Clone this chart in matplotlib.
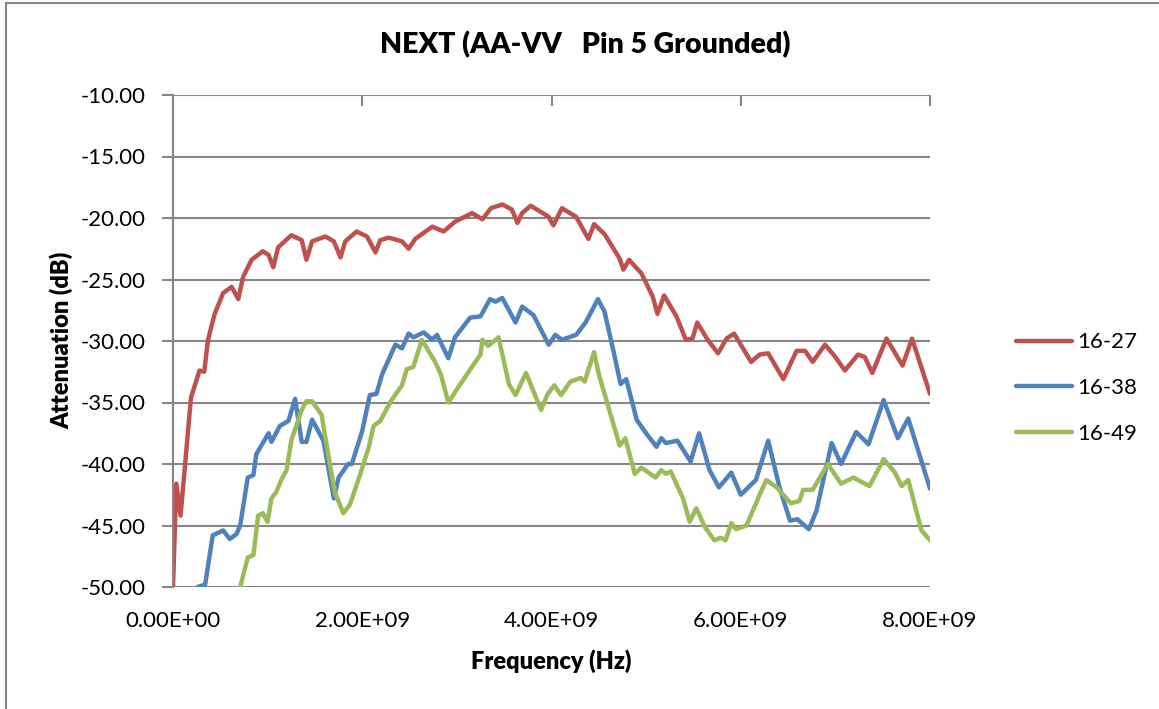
import matplotlib
matplotlib.use("Agg")
import matplotlib.pyplot as plt
from matplotlib.patches import Rectangle
import numpy as np

plt.rcParams['font.family'] = ['Lato', 'DejaVu Sans']

# ---- data (frequency in GHz, attenuation in dB) ----
f_16_27 = [0.00, 0.035, 0.08, 0.19, 0.28, 0.33, 0.37, 0.44, 0.53, 0.62, 0.69, 0.74, 0.83, 0.95,
           1.01, 1.06, 1.11, 1.25, 1.36, 1.41, 1.47, 1.61, 1.70, 1.77, 1.82, 1.94, 2.05, 2.14,
           2.19, 2.28, 2.42, 2.49, 2.56, 2.74, 2.86, 2.98, 3.16, 3.27, 3.36, 3.48, 3.58, 3.64,
           3.69, 3.78, 3.97, 4.02, 4.11, 4.26, 4.39, 4.45, 4.56, 4.72, 4.76, 4.82, 4.95, 5.07,
           5.12, 5.19, 5.32, 5.42, 5.49, 5.54, 5.65, 5.76, 5.85, 5.93, 6.11, 6.20, 6.29, 6.45,
           6.59, 6.68, 6.76, 6.89, 6.99, 7.10, 7.24, 7.31, 7.39, 7.54, 7.71, 7.81, 8.00]
a_16_27 = [-50.0, -41.6, -44.2, -34.6, -32.4, -32.5, -29.9, -27.8, -26.1, -25.6, -26.6, -24.8, -23.4, -22.7,
           -23.0, -24.0, -22.4, -21.4, -21.8, -23.4, -21.9, -21.5, -21.9, -23.2, -21.9, -21.1, -21.5, -22.8,
           -21.8, -21.6, -21.9, -22.5, -21.7, -20.7, -21.1, -20.3, -19.6, -20.1, -19.2, -18.9, -19.3, -20.4,
           -19.6, -19.0, -19.9, -20.6, -19.2, -19.9, -21.7, -20.5, -21.3, -23.3, -24.2, -23.4, -24.5, -26.4,
           -27.8, -26.3, -28.0, -29.9, -29.8, -28.5, -29.9, -31.0, -29.8, -29.4, -31.7, -31.1, -31.0, -33.1,
           -30.8, -30.8, -31.7, -30.3, -31.2, -32.4, -31.1, -31.3, -32.6, -29.8, -32.0, -29.8, -34.3]

f_16_38 = [0.26, 0.34, 0.42, 0.53, 0.60, 0.67, 0.71, 0.79, 0.85, 0.88, 1.01, 1.04, 1.13, 1.22,
           1.29, 1.36, 1.41, 1.47, 1.59, 1.70, 1.75, 1.85, 1.89, 2.00, 2.08, 2.15, 2.21, 2.35,
           2.42, 2.49, 2.54, 2.65, 2.74, 2.79, 2.91, 2.98, 3.14, 3.25, 3.35, 3.41, 3.48, 3.62,
           3.69, 3.81, 3.97, 4.04, 4.11, 4.26, 4.36, 4.49, 4.56, 4.66, 4.73, 4.79, 4.90, 5.00,
           5.11, 5.16, 5.21, 5.33, 5.47, 5.56, 5.67, 5.77, 5.90, 6.00, 6.16, 6.29, 6.41, 6.52,
           6.60, 6.72, 6.80, 6.96, 7.06, 7.22, 7.35, 7.51, 7.66, 7.77, 8.00]
a_16_38 = [-50.0, -49.8, -45.8, -45.4, -46.1, -45.7, -45.0, -41.1, -40.9, -39.2, -37.5, -38.2, -36.9, -36.5,
           -34.7, -38.2, -38.2, -36.4, -38.1, -42.8, -41.1, -40.0, -40.0, -37.3, -34.4, -34.3, -32.7, -30.3,
           -30.6, -29.4, -29.7, -29.3, -29.9, -29.5, -31.4, -29.7, -28.1, -28.0, -26.6, -26.8, -26.5, -28.5,
           -27.2, -27.9, -30.3, -29.5, -29.9, -29.5, -28.5, -26.6, -27.6, -31.0, -33.5, -33.1, -36.4, -37.5,
           -38.6, -37.9, -38.3, -38.1, -39.8, -37.5, -40.5, -41.9, -40.7, -42.5, -41.3, -38.1, -41.9, -44.6,
           -44.5, -45.3, -43.8, -38.3, -40.0, -37.4, -38.4, -34.8, -37.9, -36.3, -42.0]

f_16_49 = [0.71, 0.79, 0.85, 0.90, 0.95, 1.00, 1.04, 1.09, 1.15, 1.20, 1.25, 1.36, 1.41, 1.47,
           1.57, 1.64, 1.71, 1.80, 1.87, 1.98, 2.07, 2.12, 2.19, 2.31, 2.42, 2.47, 2.54, 2.63,
           2.77, 2.83, 2.91, 3.02, 3.16, 3.25, 3.27, 3.33, 3.44, 3.55, 3.62, 3.73, 3.89, 3.96,
           4.03, 4.10, 4.20, 4.31, 4.35, 4.45, 4.50, 4.61, 4.72, 4.78, 4.88, 4.95, 5.10, 5.16,
           5.21, 5.26, 5.39, 5.46, 5.53, 5.62, 5.72, 5.79, 5.84, 5.90, 5.95, 6.06, 6.20, 6.27,
           6.38, 6.53, 6.62, 6.66, 6.76, 6.92, 7.06, 7.19, 7.36, 7.51, 7.63, 7.70, 7.77, 7.91, 8.00]
a_16_49 = [-50.0, -47.6, -47.4, -44.2, -44.0, -44.7, -42.8, -42.3, -41.2, -40.5, -38.1, -35.6, -34.9, -34.9,
           -36.0, -39.2, -42.3, -44.0, -43.3, -40.8, -38.6, -36.9, -36.5, -34.8, -33.6, -32.3, -32.1, -29.9,
           -31.7, -32.7, -35.0, -33.7, -32.1, -31.1, -29.9, -30.4, -29.7, -33.5, -34.4, -32.6, -35.6, -34.3,
           -33.6, -34.4, -33.3, -33.0, -33.3, -30.9, -32.7, -35.6, -38.5, -37.9, -40.8, -40.3, -41.1, -40.5,
           -40.8, -40.6, -42.8, -44.7, -43.6, -45.1, -46.2, -46.0, -46.2, -44.8, -45.3, -45.0, -42.5, -41.3,
           -41.9, -43.2, -43.0, -42.1, -42.1, -40.0, -41.6, -41.1, -41.8, -39.6, -40.7, -41.8, -41.3, -45.4, -46.2]

series_labels = ['16-27', '16-38', '16-49']
series_colors = ['#C0504D', '#4F81BD', '#9BBB59']
x_ticks = [0, 2e9, 4e9, 6e9, 8e9]
y_ticks = [-50, -45, -40, -35, -30, -25, -20, -15, -10]

W, H = 1159, 709
fig = plt.figure(figsize=(W / 100, H / 100), dpi=100)
ax = fig.add_axes([173 / W, 1 - 587 / H, (930 - 173) / W, (587 - 95) / H])

GRID = '#868686'
for f, a, lab, col in zip([f_16_27, f_16_38, f_16_49], [a_16_27, a_16_38, a_16_49],
                          series_labels, series_colors):
    ax.plot(np.array(f) * 1e9, a, color=col, lw=3.2, label=lab,
            solid_joinstyle='round', solid_capstyle='round', clip_on=True)

ax.set_xlim(0, 8e9)
ax.set_ylim(-50, -10)
ax.set_xticks(x_ticks)
ax.set_xticklabels(['%.2E' % v for v in x_ticks])
ax.set_yticks(y_ticks)
ax.set_yticklabels(['%.2f' % v for v in y_ticks])

ax.yaxis.grid(True, color=GRID, lw=1.5)
ax.set_axisbelow(True)
for s in ['top', 'right', 'bottom']:
    ax.spines[s].set_visible(False)
ax.spines['left'].set_color(GRID)
ax.spines['left'].set_linewidth(1.5)

ax.tick_params(axis='y', direction='out', length=8, width=1.5, color=GRID, pad=12,
               labelsize=16)
ax.tick_params(axis='x', top=True, bottom=False, labeltop=False, labelbottom=True,
               direction='in', length=8, width=1.5, color=GRID, pad=17, labelsize=16)

fig.text(585 / W, 1 - 45 / H, 'NEXT (AA-VV   Pin 5 Grounded)', ha='center', va='center',
         fontsize=20.5, fontweight='heavy')
fig.text(551 / W, 1 - 661 / H, 'Frequency (Hz)', ha='center', va='center',
         fontsize=17, fontweight='heavy')
fig.text(61 / W, 1 - 340 / H, 'Attenuation (dB)', ha='center', va='center',
         rotation=90, fontsize=17, fontweight='heavy')

leg = fig.legend(loc='center left', bbox_to_anchor=(1016 / W, 1 - 388 / H),
                 frameon=False, fontsize=16, handlelength=2.5, handletextpad=0.25,
                 labelspacing=1.15, borderpad=0, borderaxespad=0)

fig.add_artist(Rectangle((6 / W, -0.05), 1.2, 1 - 3 / H + 0.05, transform=fig.transFigure,
                         fill=False, edgecolor=GRID, lw=1.5))

fig.savefig('out.png', dpi=100)
